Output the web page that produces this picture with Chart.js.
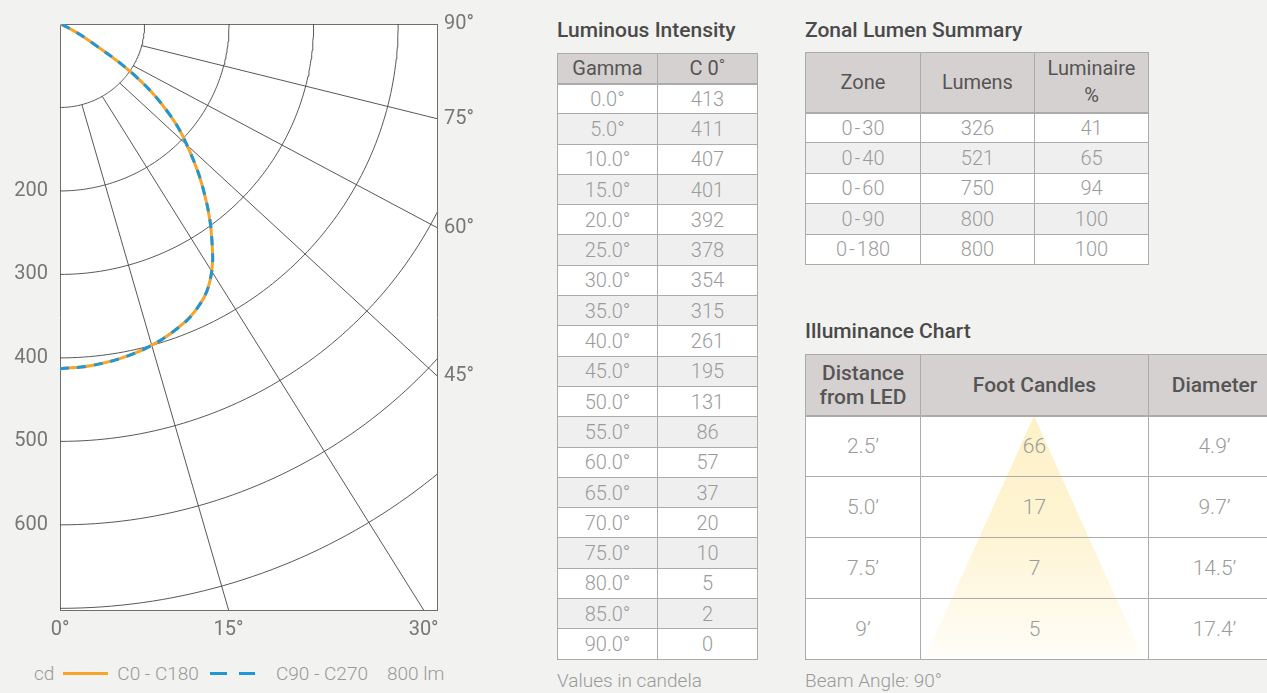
<!DOCTYPE html>
<html>
<head>
<meta charset="utf-8">
<script src="https://cdn.jsdelivr.net/npm/chart.js@4.4.1/dist/chart.umd.min.js"></script>
<style>
  html,body{margin:0;padding:0;}
  body{background:#f2f2f1;font-family:Roboto,"Noto Sans",sans-serif;width:1267px;height:693px;overflow:hidden;position:relative;}
  #polarBox{position:absolute;left:0;top:0;width:520px;height:650px;}
  .title{position:absolute;font-size:21px;line-height:24px;font-weight:500;color:#4a4a4a;white-space:nowrap;}
  .note{position:absolute;font-size:19px;line-height:20px;font-weight:300;color:#9a9a9a;white-space:nowrap;}
  table{border-collapse:collapse;table-layout:fixed;font-family:Roboto,sans-serif;}
  th,td{border:1px solid #ababab;text-align:center;padding:0;vertical-align:middle;}
  th{background:#d5d1d0;color:#555;font-weight:400;font-size:20px;}
  thead tr{border-bottom:2px solid #ababab;}
  td{color:#9b9b9b;font-weight:300;font-size:20px;}
  .striped tbody tr:nth-child(odd) td{background:#ffffff;}
  .striped tbody tr:nth-child(even) td{background:#efefef;}
  #lumTable{position:absolute;left:557px;top:53px;width:201px;}
  #lumTable thead tr{height:30px;}
  #lumTable tbody tr{height:30.3px;}
  #zoneTable{position:absolute;left:805px;top:52px;width:344px;}
  #zoneTable thead tr{height:60px;}
  #zoneTable th{line-height:27px;}
  #zoneTable tbody tr{height:30.4px;}
  #illum{position:absolute;left:805px;top:354px;width:475px;height:305px;background:#fff;}
  #cone{position:absolute;left:115px;top:62px;width:228px;height:242px;
        clip-path:polygon(50% 0,2.2% 100%,97.8% 100%);
        background:linear-gradient(to bottom,rgb(253,241,199) 0%,rgb(254,244,210) 45%,rgb(255,249,232) 80%,rgb(255,254,249) 100%);}
  #illumTable{position:relative;width:475px;z-index:1;}
  #illumTable th{font-weight:500;font-size:21px;line-height:24px;color:#555;}
  #illumTable thead tr{height:61px;}
  #illumTable tbody tr{height:61px;}
  #illumTable td{background:transparent;font-size:21px;}
  #legend{position:absolute;left:34px;top:660px;height:26px;display:flex;align-items:center;font-size:19px;font-weight:300;color:#999;white-space:nowrap;}
  .lgLine{display:inline-block;width:45px;height:3px;}
</style>
</head>
<body>
<div id="polarBox"><canvas id="polar"></canvas></div>
<div id="legend"></div>

<div class="title" style="left:557px;top:18px;">Luminous Intensity</div>
<table id="lumTable" class="striped"><colgroup><col style="width:100px"><col style="width:100px"></colgroup><thead></thead><tbody></tbody></table>
<div class="note" style="left:557px;top:671px;">Values in candela</div>

<div class="title" style="left:805px;top:18px;">Zonal Lumen Summary</div>
<table id="zoneTable" class="striped"><colgroup><col style="width:115px"><col style="width:114px"><col style="width:114px"></colgroup><thead></thead><tbody></tbody></table>

<div class="title" style="left:805px;top:319px;">Illuminance Chart</div>
<div id="illum">
  <div id="cone"></div>
  <table id="illumTable"><colgroup><col style="width:115px"><col style="width:228px"><col style="width:132px"></colgroup><thead></thead><tbody></tbody></table>
</div>
<div class="note" style="left:805px;top:671px;">Beam Angle: 90°</div>

<script>
// ---------------- DATA ----------------
// Gamma angles (deg) shared by the table and the plotted curves
const gammaDeg = [0, 5, 10, 15, 20, 25, 30, 35, 40, 45, 50, 55, 60, 65, 70, 75, 80, 85, 90];
// Values printed in the "Luminous Intensity" table (C 0°)
const tableCandela = [413, 411, 407, 401, 392, 378, 354, 315, 261, 195, 131, 86, 57, 37, 20, 10, 5, 2, 0];
// Intensities
const c0Curve  = [413, 411, 407, 401, 392, 379, 355, 313, 266, 218, 170, 109, 40, 12, 4, 2, 1, 0, 0];
const c90Curve = [413, 411, 407, 401, 392, 379, 355, 313, 266, 218, 170, 109, 40, 12, 4, 2, 1, 0, 0];
const seriesNames = ['C0 - C180', 'C90 - C270'];
const unitLabel = 'cd';
const totalLumens = 800;
const ringValues = [100, 200, 300, 400, 500, 600, 700];
const radiusTickLabels = [200, 300, 400, 500, 600];
const spokeAngles = [15, 30, 45, 60, 75];
const edgeAngles = [0, 15, 30, 45, 60, 75, 90];

const zoneNames = ['0-30', '0-40', '0-60', '0-90', '0-180'];
const zoneLumens = [326, 521, 750, 800, 800];
const zonePercent = [41, 65, 94, 100, 100];

const distances = ['2.5’', '5.0’', '7.5’', '9’'];
const footCandles = [66, 17, 7, 5];
const diameters = ['4.9’', '9.7’', '14.5’', '17.4’'];
const beamAngle = 90;

// ---------------- GEOMETRY (configuration) ----------------
const XMAX = 446, YMAX = 702;     // axis extents in cd
const SPOKE_STRETCH = 1.07;       // spoke direction stretch as in the original drawing
const D2R = Math.PI / 180;
const ORANGE = '#f6a42c', BLUE = '#1f97d4', GRID = 'rgba(70,70,70,0.9)', FRAME = '#6e6e6e';

function toXY(vals) {
  return vals.map((v, i) => ({ x: v * Math.sin(gammaDeg[i] * D2R), y: v * Math.cos(gammaDeg[i] * D2R) }));
}
function ring(r) {
  const pts = [];
  for (let d = 0; d <= 90; d += 1) pts.push({ x: r * Math.sin(d * D2R), y: r * Math.cos(d * D2R) });
  return pts;
}
function spoke(deg) {
  const a = deg * D2R, r0 = ringValues[0];
  const sx = r0 * Math.sin(a), sy = r0 * Math.cos(a);
  const dx = SPOKE_STRETCH * Math.sin(a), dy = Math.cos(a);
  let t = Infinity;
  if (dx > 1e-9) t = Math.min(t, (XMAX - sx) / dx);
  if (dy > 1e-9) t = Math.min(t, (YMAX - sy) / dy);
  return [{ x: sx, y: sy }, { x: sx + dx * t, y: sy + dy * t }];
}
const bottomTicks = [], rightTicks = [];
edgeAngles.forEach(a => {
  const e = spoke(a)[1];
  if (e.x >= XMAX - 0.5) rightTicks.push({ value: e.y, label: a + '°' });
  else bottomTicks.push({ value: e.x, label: a + '°' });
});

Chart.defaults.font.family = 'Roboto';
const tickFont = { family: 'Roboto', size: 20, weight: '400' };
const TICK_COLOR = '#777';

const datasets = [
  { label: seriesNames[1], data: toXY(c90Curve), borderColor: BLUE, borderWidth: 3, borderDash: [9, 8],
    showLine: true, pointRadius: 0, tension: 0.4, order: 1 },
  { label: seriesNames[0], data: toXY(c0Curve), borderColor: ORANGE, borderWidth: 3,
    showLine: true, pointRadius: 0, tension: 0.4, order: 2 }
];
ringValues.forEach(r => datasets.push({ label: 'ring' + r, data: ring(r), borderColor: GRID, borderWidth: 1,
  showLine: true, pointRadius: 0, tension: 0, order: 10 }));
spokeAngles.forEach(a => datasets.push({ label: 'spoke' + a, data: spoke(a), borderColor: GRID, borderWidth: 1,
  showLine: true, pointRadius: 0, tension: 0, order: 10 }));

const whiteArea = {
  id: 'whiteArea',
  beforeDraw(chart) {
    const { ctx, chartArea: c } = chart;
    ctx.save(); ctx.fillStyle = '#ffffff'; ctx.fillRect(c.left, c.top, c.right - c.left, c.bottom - c.top); ctx.restore();
  }
};

new Chart(document.getElementById('polar'), {
  type: 'scatter',
  data: { datasets },
  plugins: [whiteArea],
  options: {
    responsive: true, maintainAspectRatio: false, animation: false, events: [],
    layout: { padding: { top: 17, left: 0, right: 0, bottom: 0 } },
    plugins: { legend: { display: false }, tooltip: { enabled: false } },
    scales: {
      x: {
        type: 'linear', position: 'bottom', min: 0, max: XMAX,
        grid: { display: false, drawTicks: false },
        border: { display: true, color: FRAME, width: 1 },
        afterBuildTicks: s => { s.ticks = bottomTicks.map(t => ({ value: t.value })); },
        afterFit: s => { s.height = 40; },
        ticks: { autoSkip: false, maxRotation: 0, padding: 8, color: TICK_COLOR, font: tickFont,
                 callback: (v, i) => bottomTicks[i] ? bottomTicks[i].label : '' }
      },
      xt: {
        type: 'linear', position: 'top', min: 0, max: XMAX,
        grid: { display: false, drawTicks: false },
        border: { display: true, color: FRAME, width: 1 },
        ticks: { display: false },
        afterFit: s => { s.height = 0; }
      },
      y: {
        type: 'linear', position: 'left', min: 0, max: YMAX, reverse: true,
        grid: { display: false, drawTicks: false },
        border: { display: true, color: FRAME, width: 1 },
        afterBuildTicks: s => { s.ticks = radiusTickLabels.map(v => ({ value: v })); },
        afterFit: s => { s.width = 60; },
        ticks: { autoSkip: false, padding: 12, color: TICK_COLOR, font: tickFont,
                 callback: v => String(v) }
      },
      yr: {
        type: 'linear', position: 'right', min: 0, max: YMAX, reverse: true,
        grid: { display: false, drawTicks: false },
        border: { display: true, color: FRAME, width: 1 },
        afterBuildTicks: s => { s.ticks = rightTicks.map(t => ({ value: t.value })); },
        afterFit: s => { s.width = 83; },
        ticks: { autoSkip: false, padding: 7, color: TICK_COLOR, font: tickFont,
                 callback: (v, i) => rightTicks[i] ? rightTicks[i].label : '' }
      }
    }
  }
});

// ---------------- LEGEND ----------------
(function () {
  const lg = document.getElementById('legend');
  const span = (txt, ml) => { const s = document.createElement('span'); s.textContent = txt; s.style.marginLeft = ml + 'px'; return s; };
  const line = (style, ml) => { const s = document.createElement('span'); s.className = 'lgLine'; s.style.cssText += style; s.style.marginLeft = ml + 'px'; return s; };
  lg.appendChild(span(unitLabel, 0));
  lg.appendChild(line('background:' + ORANGE + ';', 9));
  lg.appendChild(span(seriesNames[0], 9));
  lg.appendChild(line('background:repeating-linear-gradient(to right,' + BLUE + ' 0 17px,transparent 17px 29px);', 11));
  lg.appendChild(span(seriesNames[1], 21));
  lg.appendChild(span(totalLumens + ' lm', 19));
})();

// ---------------- TABLES ----------------
function fill(id, headHtml, rows) {
  const t = document.getElementById(id);
  t.querySelector('thead').innerHTML = '<tr>' + headHtml.map(h => '<th>' + h + '</th>').join('') + '</tr>';
  t.querySelector('tbody').innerHTML = rows.map(r => '<tr>' + r.map(c => '<td>' + c + '</td>').join('') + '</tr>').join('');
}
fill('lumTable', ['Gamma', 'C 0˚'], gammaDeg.map((g, i) => [g.toFixed(1) + '°', tableCandela[i]]));
fill('zoneTable', ['Zone', 'Lumens', 'Luminaire<br>%'],
  zoneNames.map((z, i) => [z.replace('-', '\u200A-\u200A'), zoneLumens[i], zonePercent[i]]));
fill('illumTable', ['Distance<br>from LED', 'Foot Candles', 'Diameter'],
  distances.map((d, i) => [d, footCandles[i], diameters[i]]));
</script>
</body>
</html>
